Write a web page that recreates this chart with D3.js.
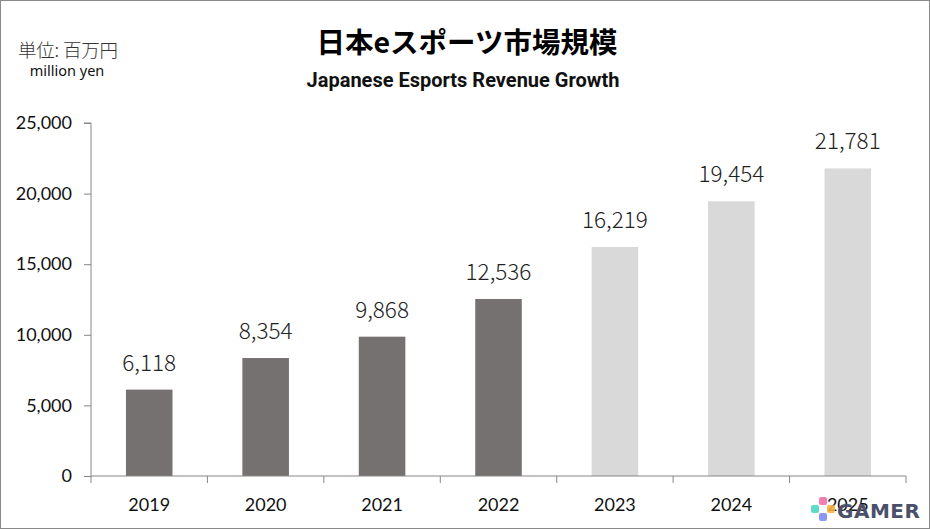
<!DOCTYPE html>
<html><head><meta charset="utf-8">
<script src="https://cdn.jsdelivr.net/npm/d3@7"></script>
<style>body{margin:0;background:#fff}</style>
</head><body>
<script>
const years = ["2019","2020","2021","2022","2023","2024","2025"];
const revenue = [6118, 8354, 9868, 12536, 16219, 19454, 21781];
const forecast = [false,false,false,false,true,true,true];
const yTicks = [0, 5000, 10000, 15000, 20000, 25000];

(function(){
const W = 930, H = 529;
const svg = d3.select("body").append("svg").attr("width", W).attr("height", H);
svg.append("rect").attr("x",0.5).attr("y",0.5).attr("width",W-1).attr("height",H-1)
  .attr("fill","#fff").attr("stroke","#898989");

const pL = 91, pR = 906, pT = 123, pB = 476;
const x = d3.scaleBand().domain(years).range([pL, pR]).paddingInner(0.6).paddingOuter(0.3);
const y = d3.scaleLinear().domain([0, 25000]).range([pB, pT]);

svg.selectAll("rect.bar").data(years).enter().append("rect")
  .attr("x", d => x(d)).attr("width", x.bandwidth())
  .attr("y", (d,i) => y(revenue[i])).attr("height", (d,i) => y(0) - y(revenue[i]))
  .attr("fill", (d,i) => forecast[i] ? "#d9d9d9" : "#767171");

svg.selectAll("text.val").data(years).enter().append("text")
  .attr("x", d => x(d) + x.bandwidth()/2).attr("y", (d,i) => y(revenue[i]) - 19)
  .attr("text-anchor","middle").attr("font-family","Noto Sans CJK JP").attr("font-weight",300)
  .attr("font-size",22.5).attr("fill","#222")
  .text((d,i) => d3.format(",")(revenue[i]));

const yAxis = d3.axisLeft(y).tickValues(yTicks).tickFormat(d3.format(",")).tickSize(7).tickPadding(12);
const gy = svg.append("g").attr("transform",`translate(${pL},0)`).call(yAxis);
gy.select(".domain").attr("stroke","#868686").attr("d", `M-7,${pT}H0V${pB}`);
gy.selectAll(".tick line").attr("stroke","#868686");
gy.selectAll("text").attr("font-family","Lato, 'Open Sans', sans-serif").attr("font-size",18).attr("fill","#111");

const xAxis = d3.axisBottom(x).tickSize(0).tickPadding(22);
const gx = svg.append("g").attr("transform",`translate(0,${pB})`).call(xAxis);
gx.select(".domain").attr("stroke","#868686").attr("d", `M${pL},0H${pR}`);
gx.selectAll("text").attr("font-family","Lato, 'Open Sans', sans-serif").attr("font-size",18).attr("fill","#111");
const edges = [pL].concat(years.slice(1).map(d => x(d) - (x.step()-x.bandwidth())/2)).concat([pR]);
svg.selectAll("line.xt").data(edges).enter().append("line")
  .attr("x1", d => d).attr("x2", d => d).attr("y1", pB).attr("y2", pB+7)
  .attr("stroke","#868686");

svg.append("text").attr("x",467).attr("y",53).attr("text-anchor","middle")
  .attr("font-family","Noto Sans CJK JP").attr("font-weight",700).attr("font-size",28.5).attr("fill","#000")
  .text("日本eスポーツ市場規模");
svg.append("text").attr("x",463).attr("y",87).attr("text-anchor","middle")
  .attr("font-family","Roboto, 'Noto Sans', sans-serif").attr("font-weight",700).attr("font-size",20).attr("fill","#111")
  .text("Japanese Esports Revenue Growth");
svg.append("text").attr("x",18).attr("y",57)
  .attr("font-family","Noto Sans CJK JP").attr("font-weight",300).attr("font-size",18.5).attr("fill","#333")
  .attr("textLength",100).attr("lengthAdjust","spacing")
  .text("単位: 百万円");
svg.append("text").attr("x",67).attr("y",76).attr("text-anchor","middle")
  .attr("font-family","'Noto Sans', sans-serif").attr("font-size",14.5).attr("fill","#111")
  .text("million yen");

const wm = svg.append("g").attr("transform","translate(823,509)");
[["#f06fa8",0,-8],["#f5b041",8,0],["#7b8cf5",0,8],["#4dd6c0",-8,0]].forEach(([c,dx,dy])=>{
  wm.append("rect").attr("x",dx-4).attr("y",dy-4).attr("width",8).attr("height",8).attr("rx",2).attr("fill",c).attr("opacity",0.9);
});
svg.append("text").attr("x",837).attr("y",518).attr("font-family","'DejaVu Sans', sans-serif").attr("font-weight",700)
  .attr("font-size",20).attr("fill","#4a4f6a").attr("letter-spacing",0.5).text("GAMER");
})();
</script>
</body></html>
